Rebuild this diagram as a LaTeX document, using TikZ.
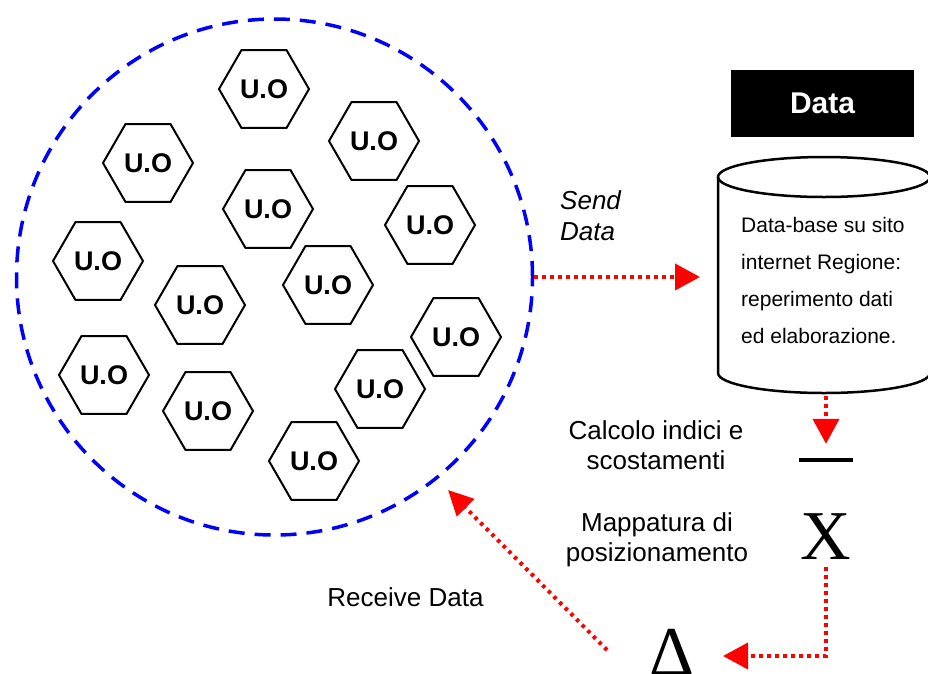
\documentclass[tikz,border=0pt]{standalone}
\usepackage{fontspec}
\setmainfont{Liberation Sans}
\newfontfamily\symfont{Liberation Serif}
\usetikzlibrary{shapes.geometric,arrows.meta}
\begin{document}
\begin{tikzpicture}[x=1pt,y=-1pt,
        uo/.style={draw,line width=2pt,regular polygon,regular polygon sides=6,minimum size=90pt,inner sep=0pt,font=\bfseries\fontsize{27}{30}\selectfont},
        sqdots/.style={red,line width=4pt,dash pattern=on 4pt off 4pt,-{Triangle[length=25pt,width=26pt]}},
        rddots/.style={red,line width=4pt,dash pattern=on 3.5pt off 4.5pt,-{Triangle[length=25pt,width=24pt]}},
        lbl/.style={inner sep=0pt,align=center,font=\fontsize{26}{30}\selectfont},
        sym/.style={inner sep=0pt,font=\symfont\fontsize{70}{70}\selectfont}]
    \useasboundingbox (0,0) rectangle (928,673);
    \node[circle,draw=blue,line width=3.5pt,dash pattern=on 16pt off 10pt,minimum size=516pt,inner sep=0pt] (area) at (274.5,277) {};
    \node[uo] (uo1) at (264,89) {U.O};
    \node[uo] (uo2) at (374,141) {U.O};
    \node[uo] (uo3) at (148,163) {U.O};
    \node[uo] (uo4) at (268,209) {U.O};
    \node[uo] (uo5) at (430,225) {U.O};
    \node[uo] (uo6) at (98,261) {U.O};
    \node[uo] (uo7) at (328,285) {U.O};
    \node[uo] (uo8) at (200,305) {U.O};
    \node[uo] (uo9) at (456,337) {U.O};
    \node[uo] (uo10) at (104,375) {U.O};
    \node[uo] (uo11) at (380,389) {U.O};
    \node[uo] (uo12) at (208,411) {U.O};
    \node[uo] (uo13) at (314,461) {U.O};
    \node[fill=black,text=white,minimum width=183pt,minimum height=67pt,font=\bfseries\fontsize{30}{36}\selectfont] (datahead) at (822.5,103.5) {Data};
    \draw[line width=2.5pt] (824,177) ellipse [x radius=106,y radius=20];
    \draw[line width=2.5pt] (718,177) -- (718,373) arc[start angle=180,end angle=0,x radius=106,y radius=20] -- (930,177);
    \node[inner sep=0pt,anchor=west,align=left,font=\fontsize{21}{37}\selectfont] (dbtext) at (741,280) {Data-base su sito\\internet Regione:\\reperimento dati\\ed elaborazione.};
    \coordinate (sendend) at (700,277);
    \coordinate (dbout) at (826,396);
    \node[inner xsep=0pt,inner ysep=14pt] (minus) at (826,460) {\rule{54pt}{4pt}};
    \node[sym,inner ysep=7pt] (xsym) at (826,537) {X};
    \node[sym,anchor=base] (delta) at (672,675) {Δ};
    \coordinate (deltain) at (723,656);
    \coordinate (recvfrom) at (607,650);
    \coordinate (recvto) at (448,490);
    \node[lbl,anchor=west,align=left,font=\itshape\fontsize{26}{31}\selectfont] (sendlbl) at (560,216) {Send\\Data};
    \node[lbl] (calclbl) at (656,445) {Calcolo indici e\\scostamenti};
    \node[lbl] (mapplbl) at (657,539.5) {Mappatura di\\posizionamento};
    \node[lbl] (recvlbl) at (405.5,597) {Receive Data};
    \draw[sqdots] (area.east) -- (sendend);
    \draw[sqdots] (dbout) -- (minus.north);
    \draw[sqdots] (xsym.south) |- (deltain);
    \draw[rddots] (recvfrom) -- (recvto);
\end{tikzpicture}
\end{document}
